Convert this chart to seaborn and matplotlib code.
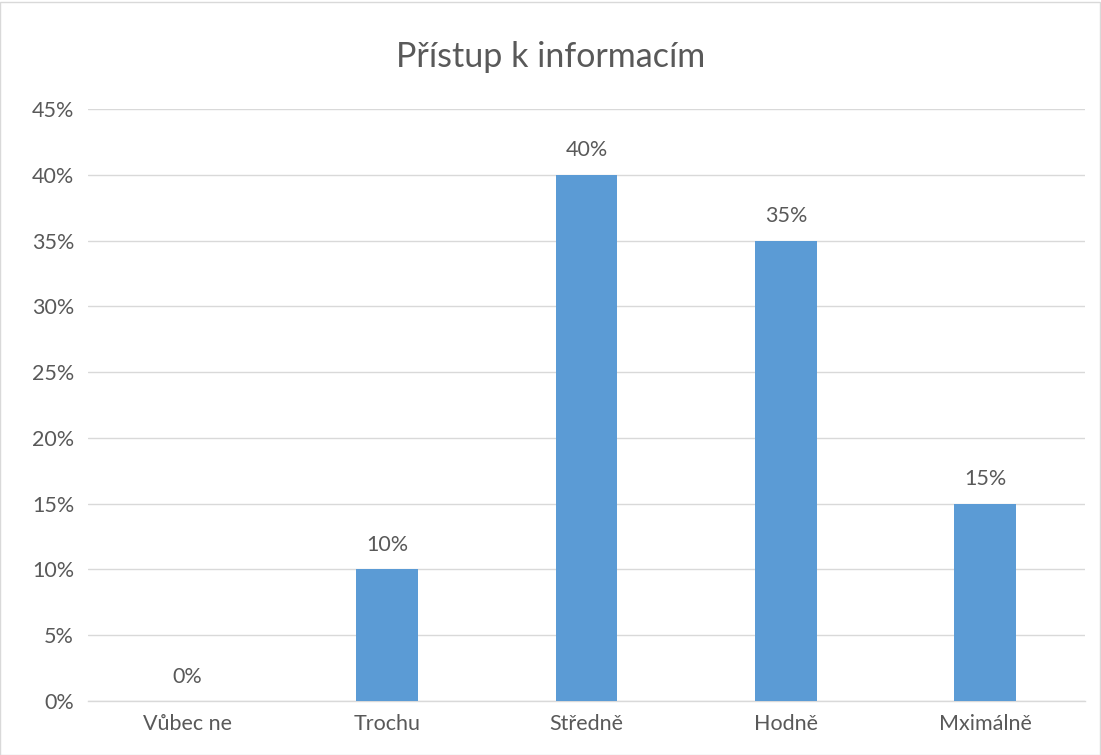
import pandas as pd
import matplotlib.pyplot as plt
import seaborn as sns
from matplotlib.ticker import PercentFormatter
from matplotlib.patches import Rectangle

categories = ["Vůbec ne", "Trochu", "Středně", "Hodně", "Mximálně"]
values = [0.00, 0.10, 0.40, 0.35, 0.15]
labels = ["0%", "10%", "40%", "35%", "15%"]

df = pd.DataFrame({"kategorie": categories, "podil": values})

sns.set_theme(style="white")
plt.rcParams["font.family"] = ["Lato", "DejaVu Sans"]
text_color = "#595959"

fig = plt.figure(figsize=(11.01, 7.55), dpi=100)
ax = fig.add_axes([0.0799, 0.0715, 0.9056, 0.7841])

sns.barplot(data=df, x="kategorie", y="podil", color="#5B9BD5", width=0.31,
            saturation=1, ax=ax, zorder=3, linewidth=0)

ax.set_ylim(0, 0.45)
ax.set_yticks([i * 0.05 for i in range(10)])
ax.yaxis.set_major_formatter(PercentFormatter(1.0, decimals=0))
ax.grid(axis="y", color="#D9D9D9", linewidth=1, zorder=0)
ax.set_xlabel("")
ax.set_ylabel("")
for s in ["top", "right", "left"]:
    ax.spines[s].set_visible(False)
ax.spines["bottom"].set_color("#D9D9D9")
ax.spines["bottom"].set_linewidth(1)
ax.tick_params(axis="both", colors=text_color, labelsize=15.5, length=0)
ax.tick_params(axis="x", pad=9)
ax.tick_params(axis="y", pad=10)

for i, (v, lab) in enumerate(zip(values, labels)):
    ax.annotate(lab, (i, v), xytext=(0, 17.5), textcoords="offset points",
                ha="center", va="center", fontsize=15.5, color=text_color)

fig.text(0.5, 0.924, "Přístup k informacím", ha="center", va="center",
         fontsize=24.5, color=text_color)

fig.patches.append(Rectangle((0.0, 0.0), 0.999, 0.998, transform=fig.transFigure,
                             fill=False, edgecolor="#D9D9D9", linewidth=1.0))

fig.savefig("out.png", dpi=100)
plt.close()
